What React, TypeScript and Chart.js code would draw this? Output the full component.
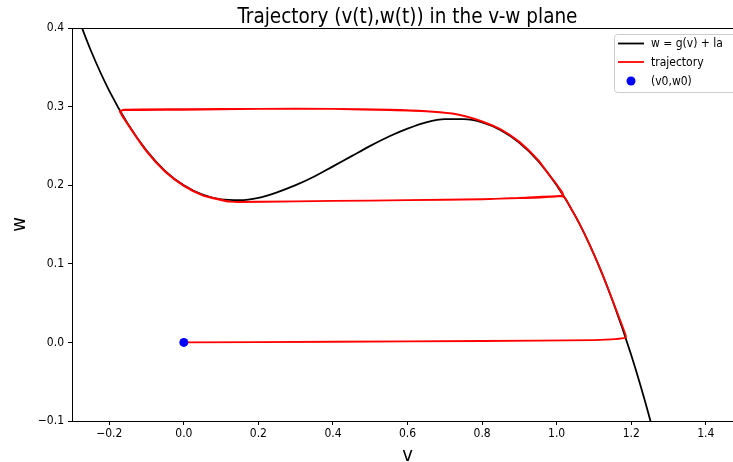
import React, { useEffect, useRef } from "react";
import { Chart, registerables } from "chart.js";

Chart.register(...registerables);

const FONT = '"DejaVu Sans Condensed", "DejaVu Sans", sans-serif';

const curveV = [-0.30, -0.25, -0.20, -0.15, -0.10, -0.05, 0.00, 0.05, 0.10, 0.15, 0.20, 0.25, 0.30, 0.35, 0.40, 0.45, 0.50, 0.55, 0.60, 0.65, 0.70, 0.75, 0.80, 0.85, 0.90, 0.95, 1.00, 1.05, 1.10, 1.15, 1.20, 1.25, 1.30];
const curveW = [0.434, 0.372, 0.320, 0.278, 0.244, 0.218, 0.200, 0.188, 0.182, 0.181, 0.184, 0.191, 0.200, 0.211, 0.224, 0.237, 0.250, 0.262, 0.272, 0.280, 0.284, 0.284, 0.280, 0.270, 0.254, 0.231, 0.200, 0.161, 0.112, 0.053, -0.016, -0.097, -0.190];

const trajV = [
  0.0, 0.4, 0.8, 1.1, 1.185,
  1.18, 1.16, 1.14, 1.12, 1.10, 1.08, 1.06, 1.04, 1.02,
  1.0, 0.9, 0.8, 0.6, 0.4, 0.2, 0.12,
  0.1, 0.05, 0.0, -0.05, -0.1, -0.15, -0.172,
  -0.16, 0.0, 0.2, 0.4, 0.55, 0.65, 0.72, 0.76, 0.8,
  0.85, 0.9, 0.95, 0.98, 1.0, 1.017,
  0.9, 0.7, 0.5, 0.3, 0.14, 0.12,
  0.1, 0.05, 0.0, -0.05, -0.1, -0.15, -0.17,
  -0.16, 0.0, 0.2, 0.4, 0.55, 0.65, 0.72, 0.76, 0.8,
  0.85, 0.9, 0.95, 0.98, 1.0, 1.017,
];
const trajW = [
  0.0, 0.0008, 0.0018, 0.003, 0.006,
  0.016, 0.041, 0.066, 0.090, 0.112, 0.133, 0.152, 0.169, 0.185,
  0.186, 0.184, 0.182, 0.181, 0.180, 0.179, 0.179,
  0.181, 0.187, 0.199, 0.217, 0.243, 0.277, 0.294,
  0.2955, 0.296, 0.297, 0.297, 0.2955, 0.294, 0.291, 0.287, 0.281,
  0.271, 0.255, 0.232, 0.213, 0.201, 0.187,
  0.1835, 0.1815, 0.1805, 0.1795, 0.1785, 0.1795,
  0.1815, 0.1875, 0.1995, 0.2175, 0.2435, 0.2775, 0.2935,
  0.2962, 0.2968, 0.2972, 0.2972, 0.296, 0.2943, 0.2913, 0.2873, 0.2813,
  0.2712, 0.2552, 0.2322, 0.2132, 0.2012, 0.1872,
];

const startV = [0.0];
const startW = [0.0];

const xTicks = [-0.2, 0.0, 0.2, 0.4, 0.6, 0.8, 1.0, 1.2, 1.4];
const yTicks = [-0.1, 0.0, 0.1, 0.2, 0.3, 0.4];

const titleText = "Trajectory (v(t),w(t)) in the v-w plane";
const xLabel = "v";
const yLabel = "w";
const curveLabel = "w = g(v) + la";
const trajLabel = "trajectory";
const startLabel = "(v0,w0)";

const fmt = (v: number) => {
  const s = Math.abs(v).toFixed(1);
  return v < -1e-9 ? "\u2212" + s : s;
};

const textPlugin = {
  id: "mplText",
  afterDraw(chart: any) {
    const { ctx, chartArea, scales } = chart;
    const x = scales.x;
    const cx = (x.getPixelForValue(-0.3) + x.getPixelForValue(1.5)) / 2;
    ctx.save();
    // top spine
    ctx.strokeStyle = "#000";
    ctx.lineWidth = 1;
    ctx.beginPath();
    ctx.moveTo(chartArea.left, Math.round(chartArea.top) + 0.5);
    ctx.lineTo(chartArea.right, Math.round(chartArea.top) + 0.5);
    ctx.stroke();
    // title
    ctx.fillStyle = "#000";
    ctx.font = `20.5px ${FONT}`;
    ctx.textAlign = "center";
    ctx.textBaseline = "alphabetic";
    ctx.fillText(titleText, cx, 23);
    // x label
    ctx.font = `20px ${FONT}`;
    ctx.fillText(xLabel, cx, 461);
    // y label
    ctx.save();
    ctx.translate(25, (chartArea.top + chartArea.bottom) / 2);
    ctx.rotate(-Math.PI / 2);
    ctx.fillText(yLabel, 0, 0);
    ctx.restore();
    // legend
    const bx = 614.5, by = 34.5, bw = 140, bh = 58, r = 3;
    ctx.beginPath();
    ctx.moveTo(bx + r, by);
    ctx.lineTo(bx + bw - r, by);
    ctx.arcTo(bx + bw, by, bx + bw, by + r, r);
    ctx.lineTo(bx + bw, by + bh - r);
    ctx.arcTo(bx + bw, by + bh, bx + bw - r, by + bh, r);
    ctx.lineTo(bx + r, by + bh);
    ctx.arcTo(bx, by + bh, bx, by + bh - r, r);
    ctx.lineTo(bx, by + r);
    ctx.arcTo(bx, by, bx + r, by, r);
    ctx.closePath();
    ctx.fillStyle = "rgba(255,255,255,0.8)";
    ctx.fill();
    ctx.strokeStyle = "#cccccc";
    ctx.lineWidth = 1;
    ctx.stroke();
    const ds = chart.data.datasets;
    const rows = [43.5, 62, 81];
    const order = [0, 1, 2];
    ctx.font = `12px ${FONT}`;
    ctx.textAlign = "left";
    ctx.textBaseline = "middle";
    order.forEach((i, k) => {
      const d = ds[i];
      const y = rows[k];
      if (d.pointRadius > 0 && !d.showLine) {
        ctx.beginPath();
        ctx.arc(631, y, d.pointRadius, 0, Math.PI * 2);
        ctx.fillStyle = d.backgroundColor;
        ctx.fill();
      } else {
        ctx.beginPath();
        ctx.moveTo(618, y);
        ctx.lineTo(644, y);
        ctx.strokeStyle = d.borderColor;
        ctx.lineWidth = d.borderWidth;
        ctx.stroke();
      }
      ctx.fillStyle = "#000";
      ctx.fillText(d.label, 651, y + 0.5);
    });
    ctx.restore();
  },
};

export default function App() {
  const ref = useRef<HTMLCanvasElement | null>(null);
  useEffect(() => {
    if (!ref.current) return;
    const chart = new Chart(ref.current, {
      type: "scatter",
      data: {
        datasets: [
          {
            label: curveLabel,
            data: curveV.map((v, i) => ({ x: v, y: curveW[i] })),
            showLine: true,
            borderColor: "#000000",
            backgroundColor: "#000000",
            borderWidth: 1.8,
            pointRadius: 0,
            cubicInterpolationMode: "monotone",
            order: 3,
          },
          {
            label: trajLabel,
            data: trajV.map((v, i) => ({ x: v, y: trajW[i] })),
            showLine: true,
            borderColor: "#ff0000",
            backgroundColor: "#ff0000",
            borderWidth: 1.8,
            pointRadius: 0,
            tension: 0.2,
            order: 2,
          },
          {
            label: startLabel,
            data: startV.map((v, i) => ({ x: v, y: startW[i] })),
            showLine: false,
            borderColor: "#0000ff",
            backgroundColor: "#0000ff",
            borderWidth: 0,
            pointRadius: 4.5,
            pointHoverRadius: 4.5,
            order: 1,
          },
        ] as any,
      },
      options: {
        animation: false,
        responsive: false,
        events: [],
        layout: { autoPadding: false, padding: { top: 28, left: 0, right: 0, bottom: 0 } },
        plugins: {
          legend: { display: false },
          title: { display: false },
          tooltip: { enabled: false },
        },
        scales: {
          x: {
            type: "linear",
            min: -0.3,
            max: 1.473,
            afterBuildTicks: (s: any) => {
              s.ticks = xTicks.map((v) => ({ value: v }));
            },
            afterFit: (s: any) => {
              s.height = 41;
              s.paddingLeft = 0;
              s.paddingRight = 0;
            },
            ticks: {
              color: "#000",
              font: { family: FONT, size: 12 },
              padding: 2,
              maxRotation: 0,
              autoSkip: false,
              callback: (v: any) => fmt(Number(v)),
            },
            grid: {
              display: true,
              drawOnChartArea: false,
              drawTicks: true,
              tickLength: 4,
              color: "#000",
              lineWidth: 1,
            },
            border: { display: true, color: "#000", width: 1 },
          },
          y: {
            type: "linear",
            min: -0.1,
            max: 0.4,
            afterBuildTicks: (s: any) => {
              s.ticks = yTicks.map((v) => ({ value: v }));
            },
            afterFit: (s: any) => {
              s.width = 72;
              s.paddingTop = 0;
              s.paddingBottom = 0;
            },
            ticks: {
              color: "#000",
              font: { family: FONT, size: 12 },
              padding: 4,
              autoSkip: false,
              callback: (v: any) => fmt(Number(v)),
            },
            grid: {
              display: true,
              drawOnChartArea: false,
              drawTicks: true,
              tickLength: 4,
              color: "#000",
              lineWidth: 1,
            },
            border: { display: true, color: "#000", width: 1 },
          },
        },
      } as any,
      plugins: [textPlugin],
    });
    return () => chart.destroy();
  }, []);
  return (
    <div style={{ position: "absolute", left: 0, top: 0, width: 733, height: 462, background: "#fff" }}>
      <canvas ref={ref} width={733} height={462} style={{ display: "block" }} />
    </div>
  );
}
